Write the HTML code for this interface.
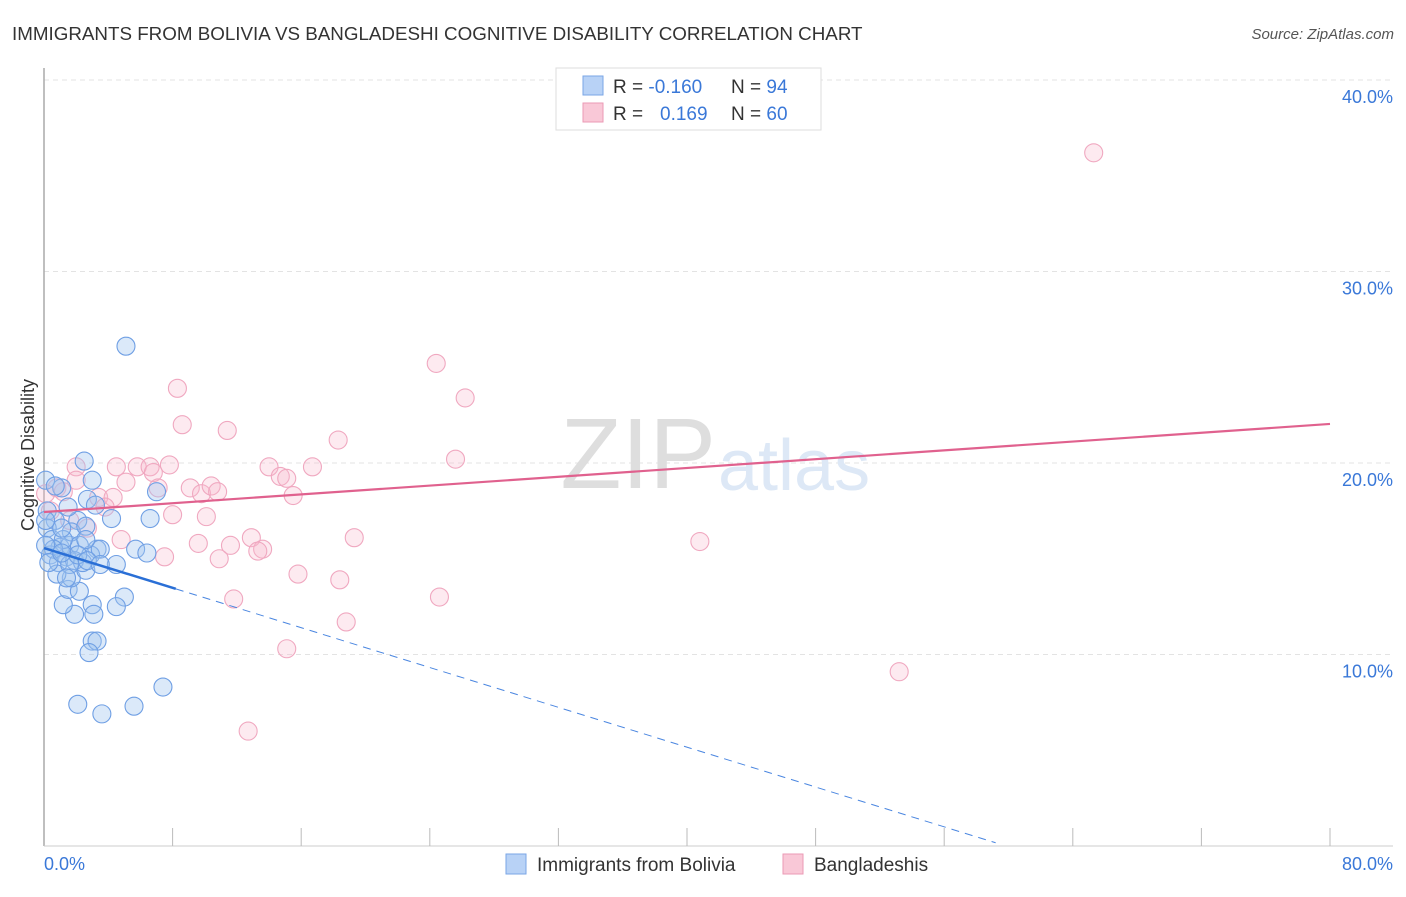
<!DOCTYPE html>
<html><head><meta charset="utf-8"><style>
body{margin:0;background:#fff;font-family:"Liberation Sans",sans-serif;}
svg text{font-family:"Liberation Sans",sans-serif;}
</style></head><body>
<svg id="chart" width="1406" height="892" xmlns="http://www.w3.org/2000/svg">
<text x="12" y="40" font-size="18.8" fill="#333">IMMIGRANTS FROM BOLIVIA VS BANGLADESHI COGNITIVE DISABILITY CORRELATION CHART</text>
<text x="1394" y="39" font-size="15" fill="#555" text-anchor="end" font-style="italic">Source: ZipAtlas.com</text>
<g id="grid"></g>
<text x="716" y="488" font-size="100" fill="#dedede" text-anchor="end" font-family="Liberation Serif">ZIP</text>
<text x="718" y="490" font-size="72" fill="#dde8f6">atlas</text>
<line x1="44" y1="68" x2="44" y2="846" stroke="#aaa" stroke-width="1.5"/>
<line x1="44" y1="846" x2="1393" y2="846" stroke="#ccc"/>
<g id="xticks"></g>
<g id="ylabels"></g>
<text x="44" y="870" font-size="18" fill="#3a78d8">0.0%</text>
<text x="1393" y="870" font-size="18" fill="#3a78d8" text-anchor="end">80.0%</text>
<text transform="translate(34,455) rotate(-90)" font-size="18" fill="#333" text-anchor="middle">Cognitive Disability</text>
<g id="pink"></g>
<g id="blue"></g>
<g id="trends"></g>
<g>
<rect x="556" y="68" width="265" height="62" fill="#fff" stroke="#ddd"/>
<rect x="583" y="76" width="20" height="19" fill="#b8d2f6" stroke="#7aa6e6"/>
<rect x="583" y="103" width="20" height="19" fill="#f9c8d7" stroke="#eb9ab4"/>
<text x="613" y="93" font-size="19" fill="#333">R = <tspan fill="#3a78d8">-0.160</tspan><tspan x="731">N = </tspan><tspan fill="#3a78d8">94</tspan></text>
<text x="613" y="120" font-size="19" fill="#333">R = <tspan x="660" fill="#3a78d8">0.169</tspan><tspan x="731">N = </tspan><tspan fill="#3a78d8">60</tspan></text>
</g>
<g>
<rect x="506" y="854" width="20" height="20" fill="#b8d2f6" stroke="#7aa6e6"/>
<text x="537" y="871" font-size="19" fill="#333">Immigrants from Bolivia</text>
<rect x="783" y="854" width="20" height="20" fill="#f9c8d7" stroke="#eb9ab4"/>
<text x="814" y="871" font-size="19" fill="#333">Bangladeshis</text>
</g>
</svg>
<script>
const yTicks=[10,20,30,40];
const yTickLabels=["10.0%","20.0%","30.0%","40.0%"];
const xTicks=[8,16,24,32,40,48,56,64,72,80];
const blueX=[5.1,2.5,7.0,3.0,1.1,4.2,6.6,5.7,6.4,4.5,3.3,5.0,4.5,3.0,3.1,1.9,1.2,1.5,2.2,1.7,2.6,3.0,3.3,2.8,7.4,5.6,2.1,3.6,0.1,0.7,0.2,0.7,0.2,0.5,1.0,1.4,0.4,1.6,2.1,1.7,2.6,2.2,2.9,0.9,1.9,2.4,3.5,1.2,0.6,1.1,1.5,2.7,3.2,0.1,0.8,1.6,2.6,2.1,0.3,1.1,2.7,1.4,0.1,3.5];
const blueY=[26.1,20.1,18.5,19.1,18.7,17.1,17.1,15.5,15.3,14.7,15.5,13.0,12.5,12.6,12.1,12.1,12.6,13.4,13.3,14.0,14.4,10.7,10.7,10.1,8.3,7.3,7.4,6.9,19.1,18.8,17.5,17.0,16.6,16.0,15.6,15.1,15.2,15.7,17.0,16.4,16.7,15.7,15.2,14.8,14.9,14.8,15.5,16.0,15.5,16.6,17.7,18.1,17.8,15.7,14.2,14.7,16.0,15.2,14.8,15.3,14.9,14.0,17.0,14.7];
const pinkX=[65.3,24.4,26.2,8.3,8.6,11.4,18.3,25.6,14.0,16.7,14.7,15.1,4.5,5.8,6.6,7.8,6.8,5.1,2.0,9.1,9.8,10.4,10.8,7.1,15.5,3.4,4.3,3.8,8.0,10.1,0.8,1.2,0.1,0.4,2.7,1.6,4.8,12.9,11.6,9.6,13.6,13.3,7.5,10.9,19.3,40.8,15.8,18.4,11.8,24.6,18.8,15.1,53.2,12.7,2.0];
const pinkY=[36.2,25.2,23.4,23.9,22.0,21.7,21.2,20.2,19.8,19.8,19.3,19.2,19.8,19.8,19.8,19.9,19.5,19.0,19.8,18.7,18.4,18.8,18.5,18.7,18.3,18.2,18.2,17.7,17.3,17.2,18.7,18.5,18.4,17.5,16.6,17.0,16.0,16.1,15.7,15.8,15.5,15.4,15.1,15.0,16.1,15.9,14.2,13.9,12.9,13.0,11.7,10.3,9.1,6.0,19.1];
const blueTrend=[15.56,-0.26];
const blueSolidEnd=8.2, blueDashEnd=59.2;
const pinkTrend=[17.44,0.0575];
const sx=v=>44+v/80*1286, sy=v=>846-v*19.15;
const NS="http://www.w3.org/2000/svg";
function mk(tag,attrs,parent){const e=document.createElementNS(NS,tag);for(const k in attrs)e.setAttribute(k,attrs[k]);parent.appendChild(e);return e;}
const grid=document.getElementById('grid'),yl=document.getElementById('ylabels'),xt=document.getElementById('xticks');
yTicks.forEach((t,i)=>{
  const l=mk('line',{x1:44,x2:1393,y1:sy(t),y2:sy(t),stroke:'#e3e3e3','stroke-dasharray':'5,4'},grid);
  
  
  const tx=mk('text',{x:1393,y:sy(t)+23,'font-size':18,fill:'#3a78d8','text-anchor':'end'},yl);
  tx.textContent=yTickLabels[i];
  
  
});
xTicks.forEach(t=>{
  const l=mk('line',{x1:sx(t),x2:sx(t),y1:828,y2:846,stroke:'#bbb'},xt);
  
  
});
const pg=document.getElementById('pink');
pinkX.forEach((x,i)=>{
  const c=mk('circle',{cx:sx(x),cy:sy(pinkY[i]),r:9,fill:'rgba(248,185,205,0.3)',stroke:'#f0a8c0','stroke-width':1.1},pg);
  
  
});
const bg=document.getElementById('blue');
blueX.forEach((x,i)=>{
  const c=mk('circle',{cx:sx(x),cy:sy(blueY[i]),r:9,fill:'rgba(160,196,240,0.38)',stroke:'#6f9fe4','stroke-width':1.1},bg);
  
  
});
const tg=document.getElementById('trends');
const bf=x=>blueTrend[0]+blueTrend[1]*x, pf=x=>pinkTrend[0]+pinkTrend[1]*x;
let t1=mk('line',{x1:sx(0),y1:sy(bf(0)),x2:sx(blueSolidEnd),y2:sy(bf(blueSolidEnd)),stroke:'#2a6fd6','stroke-width':2.5},tg);


let t2=mk('line',{x1:sx(blueSolidEnd),y1:sy(bf(blueSolidEnd)),x2:sx(blueDashEnd),y2:sy(bf(blueDashEnd)),stroke:'#4a86e0','stroke-width':1,'stroke-dasharray':'8,6'},tg);


let t3=mk('line',{x1:sx(0),y1:sy(pf(0)),x2:sx(80),y2:sy(pf(80)),stroke:'#e0618e','stroke-width':2.2},tg);


</script>
</body></html>
